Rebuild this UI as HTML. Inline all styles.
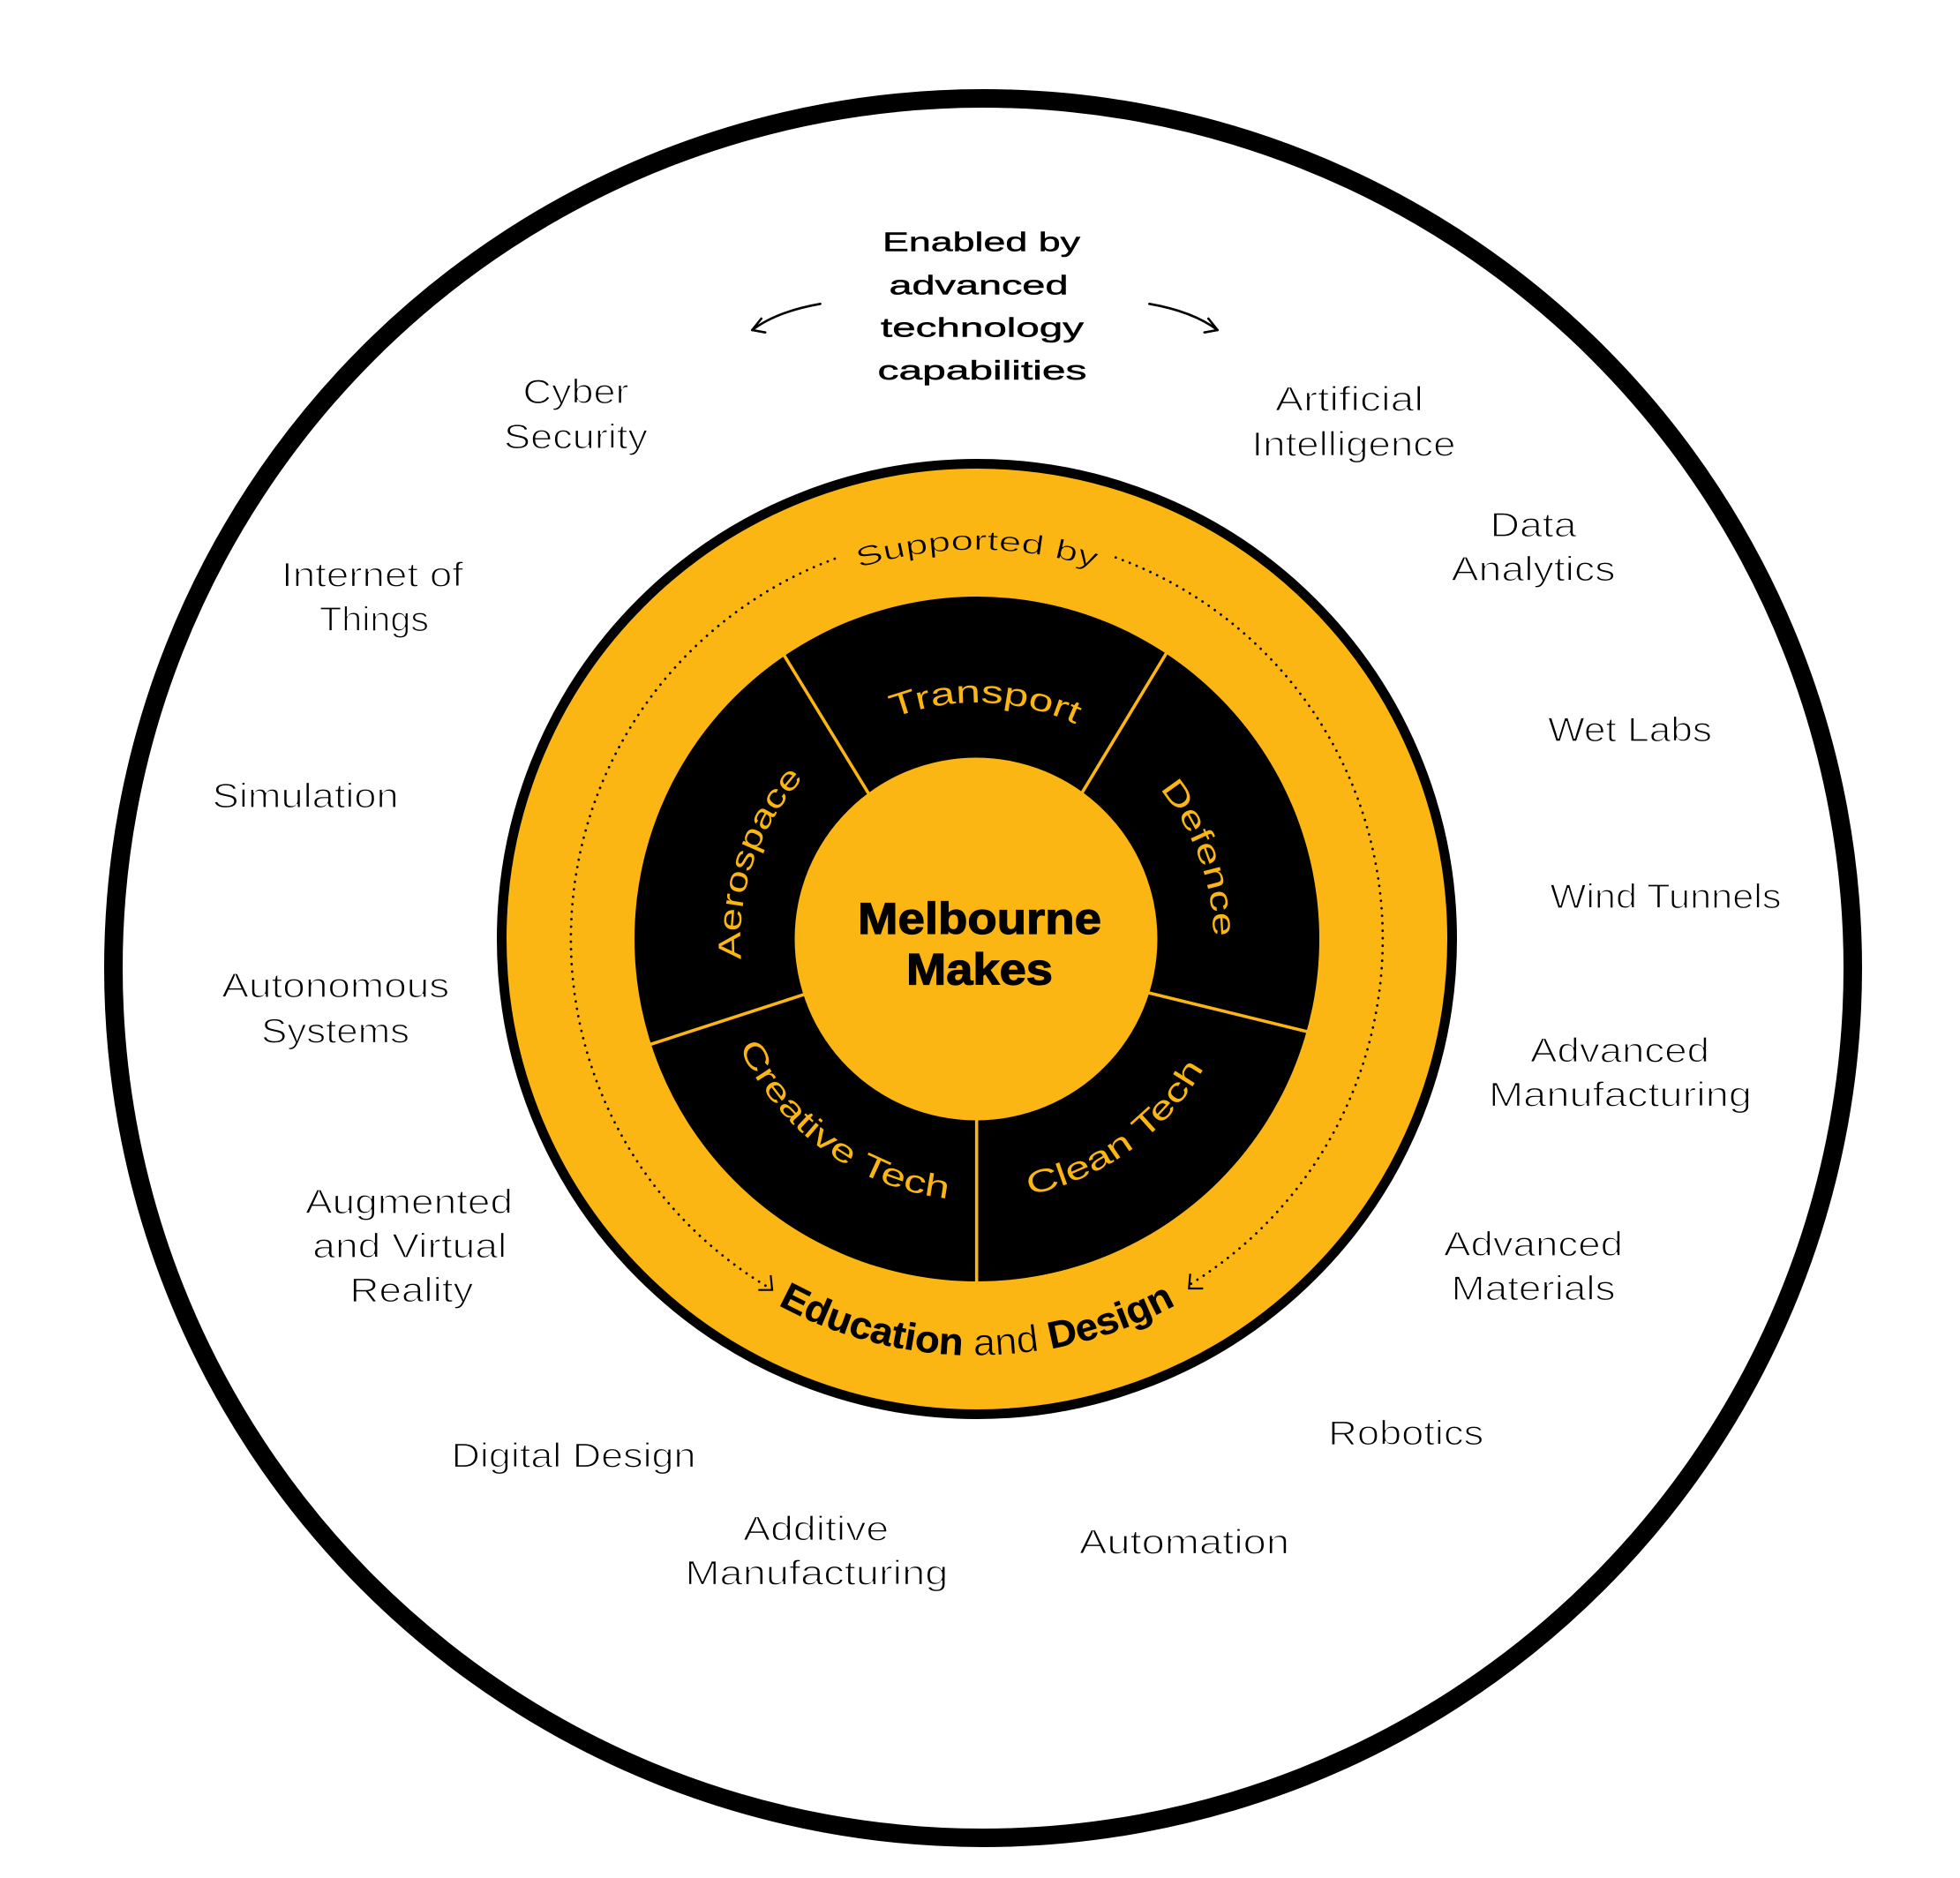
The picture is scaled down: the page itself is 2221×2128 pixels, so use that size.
<!DOCTYPE html>
<html>
<head>
<meta charset="utf-8">
<style>
html,body{margin:0;padding:0;background:#fff;}
svg{display:block;}
text{font-family:"Liberation Sans",sans-serif;}
</style>
</head>
<body>
<svg width="2221" height="2128" viewBox="0 0 2221 2128" xmlns="http://www.w3.org/2000/svg">
<defs>
<path id="pTransport" d="M844.9,1008.3 A268,268 0 0 1 1372.4,1026.7"/>
<path id="pAero" d="M977.1,1298.4 A268,268 0 0 1 1148.9,799.3"/>
<path id="pDef" d="M1060.5,800.1 A268,268 0 0 1 1241,1296.1"/>
<path id="pClean" d="M901.4,1276.9 A296,296 0 0 0 1373,934.2"/>
<path id="pCreative" d="M841,934.2 A296,296 0 0 0 1312.6,1276.9"/>
<path id="pSupp" d="M672.7,987.4 A441,441 0 0 1 1541.3,987.4"/>
<path id="pEdu" d="M642.2,1145.9 A472,472 0 0 0 1571.8,1145.9"/>
</defs>

<rect x="0" y="0" width="2221" height="2128" fill="#fff"/>

<!-- outer circle -->
<circle cx="1114" cy="1097" r="985.5" fill="none" stroke="#000" stroke-width="21"/>

<!-- yellow disk -->
<circle cx="1107" cy="1064" r="538.5" fill="#FCB614" stroke="#000" stroke-width="11"/>

<!-- dotted arcs -->
<path d="M945.9,633.1 A460,460 0 0 0 874.9,1461.2" fill="none" stroke="#000" stroke-width="2.8" stroke-linecap="round" stroke-dasharray="0.1 8.4"/>
<path d="M1264.3,631.7 A460,460 0 0 1 1345.3,1457.3" fill="none" stroke="#000" stroke-width="2.8" stroke-linecap="round" stroke-dasharray="0.1 8.4"/>
<polyline points="859.3,1461.7 875,1461.7 873.3,1445" fill="none" stroke="#000" stroke-width="2.2" stroke-linejoin="miter"/>
<polyline points="1363.3,1460 1347.3,1460 1348.7,1443.3" fill="none" stroke="#000" stroke-width="2.2" stroke-linejoin="miter"/>

<!-- black donut -->
<circle cx="1107" cy="1064" r="388" fill="#000"/>

<!-- dividers -->
<g stroke="#FCB614" stroke-width="3.6" fill="none">
<line x1="990" y1="908.6" x2="886.8" y2="739.7"/>
<line x1="1221.3" y1="906.3" x2="1323.9" y2="736.4"/>
<line x1="1291.9" y1="1122.6" x2="1484.5" y2="1169.7"/>
<line x1="921.2" y1="1123.6" x2="736.7" y2="1183.5"/>
<line x1="1106.7" y1="1260" x2="1106.7" y2="1456"/>
</g>

<!-- center circle -->
<circle cx="1106" cy="1064" r="205.5" fill="#FCB614"/>

<!-- center text -->
<g font-weight="bold" font-size="50" fill="#000" stroke="#000" stroke-width="1.2" text-anchor="middle">
<text x="1110" y="1058" textLength="276" lengthAdjust="spacingAndGlyphs">Melbourne</text>
<text x="1110" y="1115.7" textLength="166" lengthAdjust="spacingAndGlyphs">Makes</text>
</g>

<!-- segment labels -->
<g font-size="36" fill="#FCB614" text-anchor="middle">
<text><textPath href="#pTransport" startOffset="50%" textLength="212" lengthAdjust="spacingAndGlyphs">Transport</textPath></text>
<text><textPath href="#pAero" startOffset="50%" textLength="224" lengthAdjust="spacingAndGlyphs">Aerospace</textPath></text>
<text><textPath href="#pDef" startOffset="50%" textLength="182" lengthAdjust="spacingAndGlyphs">Defence</textPath></text>
<text><textPath href="#pClean" startOffset="50%" textLength="252" lengthAdjust="spacingAndGlyphs">Clean Tech</textPath></text>
<text><textPath href="#pCreative" startOffset="50%" textLength="306" lengthAdjust="spacingAndGlyphs">Creative Tech</textPath></text>
</g>

<!-- ring labels -->
<text font-size="31" fill="#000" stroke="#FCB614" stroke-width="0.7" text-anchor="middle"><textPath href="#pSupp" startOffset="50%" textLength="272" lengthAdjust="spacingAndGlyphs">Supported by</textPath></text>
<text font-size="43" fill="#000" text-anchor="middle"><textPath href="#pEdu" startOffset="50%" textLength="470" lengthAdjust="spacingAndGlyphs"><tspan font-weight="bold" stroke="#000" stroke-width="0.4">Education</tspan> <tspan font-weight="normal" stroke="#FCB614" stroke-width="0.8">and</tspan> <tspan font-weight="bold" stroke="#000" stroke-width="0.4">Design</tspan></textPath></text>

<!-- top heading -->
<g font-size="31" fill="#000" stroke="#000" stroke-width="0.5" text-anchor="middle">
<text x="1112" y="284.3" textLength="224" lengthAdjust="spacingAndGlyphs">Enabled by</text>
<text x="1109" y="333.3" textLength="203" lengthAdjust="spacingAndGlyphs">advanced</text>
<text x="1113" y="381.7" textLength="230" lengthAdjust="spacingAndGlyphs">technology</text>
<text x="1113" y="430" textLength="237" lengthAdjust="spacingAndGlyphs">capabilities</text>
</g>

<!-- curved arrows -->
<g fill="none" stroke="#000" stroke-width="2.6" stroke-linecap="round" stroke-linejoin="round">
<path d="M929.6,344.3 Q880.3,352.8 852.3,374"/>
<polyline points="862.7,361 852.3,374 867.2,376.7"/>
<path d="M1302.4,344.3 Q1351.7,352.8 1379.7,374"/>
<polyline points="1369.3,361 1379.7,374 1364.8,376.7"/>
</g>

<!-- outer labels -->
<g font-size="39" fill="#000" stroke="#fff" stroke-width="1.3" text-anchor="middle">
<text x="652.5" y="457" textLength="120" lengthAdjust="spacingAndGlyphs">Cyber</text>
<text x="652.5" y="508" textLength="163" lengthAdjust="spacingAndGlyphs">Security</text>
<text x="1529" y="465.4" textLength="168" lengthAdjust="spacingAndGlyphs">Artificial</text>
<text x="1534" y="516.4" textLength="231" lengthAdjust="spacingAndGlyphs">Intelligence</text>
<text x="1737.5" y="608" textLength="98" lengthAdjust="spacingAndGlyphs">Data</text>
<text x="1737.5" y="658" textLength="186" lengthAdjust="spacingAndGlyphs">Analytics</text>
<text x="1847" y="840" textLength="186" lengthAdjust="spacingAndGlyphs">Wet Labs</text>
<text x="1887.5" y="1029" textLength="262" lengthAdjust="spacingAndGlyphs">Wind Tunnels</text>
<text x="1835.5" y="1203.6" textLength="203" lengthAdjust="spacingAndGlyphs">Advanced</text>
<text x="1836" y="1253.6" textLength="298" lengthAdjust="spacingAndGlyphs">Manufacturing</text>
<text x="1737.5" y="1423.2" textLength="203" lengthAdjust="spacingAndGlyphs">Advanced</text>
<text x="1737.5" y="1473.2" textLength="186" lengthAdjust="spacingAndGlyphs">Materials</text>
<text x="1593.2" y="1637.2" textLength="176" lengthAdjust="spacingAndGlyphs">Robotics</text>
<text x="1342" y="1760.7" textLength="238" lengthAdjust="spacingAndGlyphs">Automation</text>
<text x="924.7" y="1745.7" textLength="165" lengthAdjust="spacingAndGlyphs">Additive</text>
<text x="925.4" y="1795.7" textLength="298" lengthAdjust="spacingAndGlyphs">Manufacturing</text>
<text x="650" y="1662.7" textLength="277" lengthAdjust="spacingAndGlyphs">Digital Design</text>
<text x="463.5" y="1375.2" textLength="235" lengthAdjust="spacingAndGlyphs">Augmented</text>
<text x="464.3" y="1425.2" textLength="220" lengthAdjust="spacingAndGlyphs">and Virtual</text>
<text x="466.4" y="1475.2" textLength="140" lengthAdjust="spacingAndGlyphs">Reality</text>
<text x="380.3" y="1130.2" textLength="258" lengthAdjust="spacingAndGlyphs">Autonomous</text>
<text x="380.1" y="1181.6" textLength="168" lengthAdjust="spacingAndGlyphs">Systems</text>
<text x="346.2" y="915" textLength="211" lengthAdjust="spacingAndGlyphs">Simulation</text>
<text x="422" y="664.6" textLength="206" lengthAdjust="spacingAndGlyphs">Internet of</text>
<text x="424" y="715" textLength="124" lengthAdjust="spacingAndGlyphs">Things</text>
</g>
</svg>
</body>
</html>
